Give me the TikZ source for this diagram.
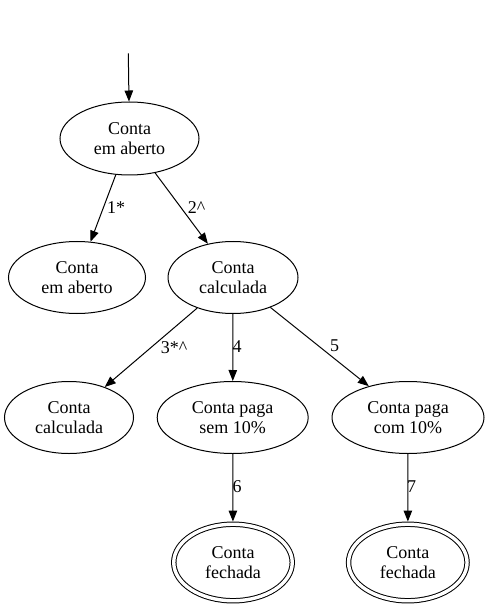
\documentclass[tikz,border=0pt]{standalone}
\usepackage{fontspec}
\setmainfont{Liberation Serif}
\usetikzlibrary{shapes.geometric,arrows.meta}
\begin{document}
\begin{tikzpicture}[x=1pt,y=-1pt,
  every node/.style={font=\fontsize{18}{20}\selectfont},
  state/.style={draw, ellipse, line width=1pt, inner sep=0pt, align=center, minimum height=72pt},
  final/.style={draw, ellipse, line width=1pt, double, double distance=3.4pt, inner sep=0pt, align=center, minimum width=118.5pt, minimum height=76.5pt},
  arr/.style={line width=1pt, -{Triangle[length=11pt,width=8.5pt]}},
  lbl/.style={inner sep=0pt}
]
\fill[white] (0,0) rectangle (489,609);
\useasboundingbox (0,0) rectangle (489,609);

\coordinate (start) at (128.3,53.3);
\node[state, minimum width=139pt, minimum height=73pt] (e1) at (129.5,138.5) {Conta\\em aberto};
\node[state, minimum width=137pt] (e2) at (77,277.5) {Conta\\em aberto};
\node[state, minimum width=130pt] (e3) at (233,277.5) {Conta\\calculada};
\node[state, minimum width=129pt] (e4) at (69,417.5) {Conta\\calculada};
\node[state, minimum width=151pt] (e5) at (232.7,417.5) {Conta paga\\sem 10\%};
\node[state, minimum width=152pt] (e6) at (408,417.5) {Conta paga\\com 10\%};
\node[final] (e7) at (233,562.5) {Conta\\fechada};
\node[final] (e8) at (407.8,562.5) {Conta\\fechada};

\draw[arr] (start) -- (e1);
\draw[arr] (e1) -- (e2);
\draw[arr] (e1) -- (e3);
\draw[arr] (e3) -- (e4);
\draw[arr] (e3) -- (e5);
\draw[arr] (e3) -- (e6);
\draw[arr, shorten >=2.2pt] (e5) -- (e7);
\draw[arr, shorten >=2.2pt] (e6) -- (e8);

\node[lbl] (l1) at (116,208) {1*};
\node[lbl] (l2) at (196.5,208) {2\textasciicircum};
\node[lbl] (l3) at (174,348) {3*\textasciicircum};
\node[lbl] (l4) at (237,347) {4};
\node[lbl] (l5) at (334.5,346) {5};
\node[lbl] (l6) at (237,487) {6};
\node[lbl] (l7) at (411.5,487) {7};
\end{tikzpicture}
\end{document}
